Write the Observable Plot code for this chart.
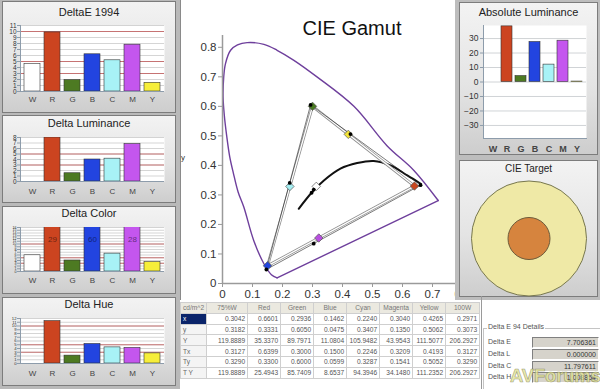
<!DOCTYPE html>
<html><head><meta charset="utf-8">
<script src="https://cdn.jsdelivr.net/npm/d3@7"></script>
<script src="https://cdn.jsdelivr.net/npm/@observablehq/plot@0.6"></script>
<style>
html,body{margin:0;padding:0}
body{width:600px;height:389px;overflow:hidden;background:#fff;font-family:"Liberation Sans",Arial,sans-serif;position:relative}
.box{position:absolute}
.panel{position:absolute;background:linear-gradient(#f3f3f3,#e4e4e4 55%,#cdcdcd);box-shadow:inset 0 0 0 1px #7c7c7c}
.ptitle{position:absolute;left:0;right:0;text-align:center;color:#222;font-size:11px;line-height:12px}
.panel svg{position:absolute;left:0;top:0}
table.dt{position:absolute;left:180px;top:302px;border-collapse:collapse;table-layout:fixed;font-size:6.6px;color:#555}
table.dt td{border:1px solid #cfcfcf;height:9.8px;line-height:9px;padding:0 2px;text-align:right;white-space:nowrap;overflow:hidden}
table.dt tr.hd td{background:#ebe9e0;text-align:center;color:#777}
table.dt td.rh{text-align:left;background:#f4f4f4;color:#666}
table.dt td.sel{background:#0a246a;color:#fff}
.lbl{position:absolute;font-size:7px;color:#555}
.val{position:absolute;left:532px;width:63px;height:9px;background:#d6d3cb;border-top:1px solid #808080;border-left:1px solid #808080;border-right:1px solid #fff;border-bottom:1px solid #fff;font-size:7px;line-height:9px;text-align:right;color:#333;padding-right:2px;box-sizing:content-box}
</style></head><body>
<script>
// ---------- data ----------
const categories = ["W","R","G","B","C","M","Y"];
const barColors = ["#ffffff","#cc4420","#4d7a22","#2244e0","#a8f2f6","#c456ee","#f6ee3a"];
const deltaE1994 = [4.6, 9.85, 1.9, 6.2, 5.2, 7.8, 1.45];
const deltaLuminance = [0, 8.0, 1.5, 4.0, 4.15, 6.8, 0];
const deltaColor = [5.9, 29, 4.0, 60, 6.5, 28, 3.4];
const deltaHue = [0, 11.3, 2.1, 5.2, 4.3, 4.15, 2.7];
const absoluteLuminance = [0, 38.4, 4.1, 27.6, 12, 28.5, 0.3];
const thresholdLines = [3, 5, 10];
const deltaETicks = d3.range(0, 12);
const deltaLTicks = d3.range(0, 9);
const deltaCTicks = d3.range(0, 17);
const deltaHTicks = d3.range(0, 13);
const absLumTicks = [-30, -20, -10, 0, 10, 20, 30];
const gamutTicks = [0, 0.1, 0.2, 0.3, 0.4, 0.5, 0.6, 0.7, 0.8];

const tableCols = ["cd/m^2","75%W","Red","Green","Blue","Cyan","Magenta","Yellow","100W"];
const rowNames = ["x","y","Y","Tx","Ty","T Y"];
const measX  = [0.3042,0.6601,0.2936,0.1462,0.2240,0.3040,0.4265,0.2971];
const measY  = [0.3182,0.3331,0.6050,0.0475,0.3407,0.1350,0.5062,0.3073];
const measLum = [119.8889,35.3370,89.7971,11.0804,105.9482,43.9543,111.5077,206.2927];
const targX  = [0.3127,0.6399,0.3000,0.1500,0.2246,0.3209,0.4193,0.3127];
const targY  = [0.3290,0.3300,0.6000,0.0599,0.3287,0.1541,0.5052,0.3290];
const targLum = [119.8889,25.4943,85.7409,8.6537,94.3946,34.1480,111.2352,206.2927];
const pointColors = ["#ffffff","#c8461e","#4a7a22","#2244dd","#a6eef2","#b84ee0","#f2e23a",null];

// spectral locus (x, y)
const locusX = [0.182,0.163,0.138,0.104,0.071,0.052,0.036,0.024,0.014,0.006,0.002,0.004,0.010,0.027,0.050,0.082,0.138,0.182,0.238,0.316,0.438,0.549,0.638,0.719];
const locusY = [0.019,0.030,0.067,0.146,0.259,0.310,0.375,0.430,0.500,0.570,0.630,0.699,0.745,0.790,0.808,0.816,0.810,0.790,0.756,0.699,0.600,0.466,0.383,0.281];
// black body curve
const planckX = [0.254,0.299,0.338,0.393,0.449,0.504,0.560,0.616,0.662];
const planckY = [0.253,0.310,0.349,0.389,0.408,0.415,0.400,0.366,0.337];

const deltaDetails = [["Delta E","7.706361"],["Delta L","0.000000"],["Delta C","11.797611"],["Delta H","1.008854"]];

// ---------- layout helpers ----------
const FONT = "Liberation Sans, Arial, sans-serif";
function div(cls, style, text) {
  const d = document.createElement("div");
  if (cls) d.className = cls;
  Object.assign(d.style, style);
  if (text != null) d.textContent = text;
  document.body.appendChild(d);
  return d;
}
function makePanel(left, top, width, height, title, titleY, fs) {
  const p = div("panel", {left:left+"px", top:top+"px", width:width+"px", height:height+"px"});
  const t = document.createElement("div");
  t.className = "ptitle"; t.textContent = title;
  t.style.top = (titleY - 6) + "px";
  if (fs) t.style.fontSize = fs + "px";
  p.appendChild(t);
  return p;
}

// background columns
div("box", {left:"0px", top:"0px", width:"180px", height:"389px", background:"#b9b9b9"});
div("box", {left:"180px", top:"0px", width:"1px", height:"300px", background:"#8a8a8a"});

function barPanel(top, height, title, titleY, values, ticks, mt, mb, pad, yFont, showOver) {
  const p = makePanel(2, top, 174, height, title, titleY);
  const yMax = ticks[ticks.length - 1];
  const data = categories.map((c, i) => ({cat: c, v: values[i], color: barColors[i]}));
  const marks = [
    Plot.frame({fill: "white", stroke: null}),
    Plot.ruleY(ticks, {stroke: "#cacaca", strokeWidth: 0.8}),
    Plot.ruleY(thresholdLines.filter(t => t <= yMax), {stroke: "#c46868", strokeWidth: 0.9}),
    Plot.barY(data, {x: "cat", y: "v", fill: "color", stroke: "#333", strokeWidth: 0.6, clip: true}),
    Plot.ruleY([0], {stroke: "#8d9cab", strokeWidth: 1}),
    Plot.frame({anchor: "left", stroke: "#8d9cab"}),
    Plot.axisY({ticks, tickSize: 3, tickPadding: 1, fontSize: yFont, stroke: "#8d9cab", fill: "#333", label: null}),
    Plot.axisX({tickSize: 0, tickPadding: pad, fontSize: 8, fill: "#444", label: null})
  ];
  if (showOver) {
    marks.push(Plot.text(data.filter(d => d.v > yMax), {x: "cat", y: d => Math.min(d.v, yMax), dy: 12, text: d => String(d.v), fontSize: 8, fill: "#000", fillOpacity: 0.5}));
  }
  const svg = Plot.plot({
    width: 174, height, marginLeft: 18, marginRight: 12, marginTop: mt, marginBottom: mb,
    x: {domain: categories, paddingInner: 0.22, paddingOuter: 0.11, label: null},
    y: {domain: [0, yMax], label: null},
    color: {type: "identity"},
    style: {background: "transparent", fontFamily: FONT, color: "#333", overflow: "visible"},
    marks
  });
  p.appendChild(svg);
}

barPanel(1, 112, "DeltaE 1994", 11, deltaE1994, deltaETicks, 24, 22, 5, 6.5, false);
barPanel(115, 88, "Delta Luminance", 8, deltaLuminance, deltaLTicks, 22, 22, 7, 6.5, false);
barPanel(206, 88, "Delta Color", 7, deltaColor, deltaCTicks, 21, 23, 6, 3.6, true);
barPanel(297, 89, "Delta Hue", 7, deltaHue, deltaHTicks, 21, 23, 7, 4.2, false);

// ---------- CIE gamut ----------
const locus = locusX.map((x, i) => ({x, y: locusY[i]}));
const locusClose = [locus[locus.length - 1], locus[0]];
const planck = planckX.map((x, i) => ({x, y: planckY[i]}));
const tri = [1, 2, 3, 1];
const targetTri = tri.map(i => ({x: targX[i], y: targY[i]}));
const measuredTri = tri.map(i => ({x: measX[i], y: measY[i]}));
const targets = d3.range(0, 7).map(i => ({x: targX[i], y: targY[i], color: pointColors[i]}));
const measured = measX.map((x, i) => ({x, y: measY[i]}));
const fmt = d => d === 0 ? "0" : d.toFixed(1);

const gamut = Plot.plot({
  width: 300, height: 300, marginLeft: 42, marginRight: 18, marginTop: 35, marginBottom: 17,
  x: {domain: [0, 0.8], label: null},
  y: {domain: [0, 0.84], label: null},
  color: {type: "identity"},
  style: {background: "transparent", fontFamily: FONT, fontSize: "11.5px", color: "#333", overflow: "visible"},
  marks: [
    Plot.line(locus, {x: "x", y: "y", curve: "catmull-rom", stroke: "#6e3f9c", strokeWidth: 1.4}),
    Plot.line(locusClose, {x: "x", y: "y", stroke: "#6e3f9c", strokeWidth: 1.4}),
    Plot.line(planck, {x: "x", y: "y", curve: "catmull-rom", stroke: "#111", strokeWidth: 2}),
    Plot.line(targetTri, {x: "x", y: "y", stroke: "#8c8c8c", strokeWidth: 2.8}),
    Plot.line(targetTri, {x: "x", y: "y", stroke: "#fff", strokeWidth: 1.3}),
    Plot.line(measuredTri, {x: "x", y: "y", stroke: "#222", strokeWidth: 0.6}),
    Plot.dot(targets, {x: "x", y: "y", symbol: "diamond2", r: 3.8, fill: "color", stroke: "#555", strokeWidth: 0.7}),
    Plot.dot(measured, {x: "x", y: "y", r: 1.9, fill: "#000", stroke: null}),
    Plot.ruleX([0], {y1: 0, y2: 0.84, stroke: "#9a9a9a", strokeWidth: 1.5}),
    Plot.ruleY([0], {stroke: "#9a9a9a", strokeWidth: 1.5}),
    Plot.axisX({ticks: gamutTicks, tickFormat: fmt, tickSize: 4, tickPadding: 2, stroke: "#9a9a9a", fill: "#333", label: null}),
    Plot.axisY({ticks: gamutTicks, tickFormat: fmt, tickSize: 4, tickPadding: 2, stroke: "#9a9a9a", fill: "#333", label: null})
  ]
});
const gwrap = div("box", {left: "180px", top: "0px"});
gwrap.appendChild(gamut);
div("box", {left: "252px", top: "16px", width: "200px", textAlign: "center", fontSize: "20px", lineHeight: "24px", color: "#111"}, "CIE Gamut");
div("box", {left: "181px", top: "153px", fontSize: "8px", color: "#333"}, "y");

// ---------- right column ----------
div("box", {left: "455px", top: "0px", width: "145px", height: "300px", background: "#bdbdbd"});
const pAbs = makePanel(459, 2, 139, 153, "Absolute Luminance", 10);
{
  const data = categories.map((c, i) => ({cat: c, v: absoluteLuminance[i], color: barColors[i]}));
  const svg = Plot.plot({
    width: 139, height: 153, marginLeft: 24, marginRight: 12, marginTop: 23, marginBottom: 17,
    x: {domain: categories, paddingInner: 0.21, paddingOuter: 0.105, label: null},
    y: {domain: [-39, 39], label: null},
    color: {type: "identity"},
    style: {background: "transparent", fontFamily: FONT, color: "#333", overflow: "visible"},
    marks: [
      Plot.frame({fill: "white", stroke: null}),
      Plot.ruleY(absLumTicks, {stroke: "#c4c8cc", strokeWidth: 0.8}),
      Plot.barY(data, {x: "cat", y: "v", fill: "color", stroke: "#333", strokeWidth: 0.6}),
      Plot.frame({anchor: "bottom", stroke: "#8d9cab"}),
      Plot.frame({anchor: "left", stroke: "#8d9cab"}),
      Plot.axisY({ticks: absLumTicks, tickSize: 3, tickPadding: 2, fontSize: 8.5, stroke: "#8d9cab", fill: "#333", label: null}),
      Plot.axisX({tickSize: 0, tickPadding: 7, fontSize: 9, fill: "#444", fontWeight: "bold", label: null})
    ]
  });
  pAbs.appendChild(svg);
}
const pTarget = makePanel(459, 160, 139, 137, "CIE Target", 9, 10);
{
  const center = [{a: 0, b: 0}];
  const svg = Plot.plot({
    width: 139, height: 137, marginLeft: 0, marginRight: 0, marginTop: 19, marginBottom: 0,
    x: {domain: [-1, 1], axis: null}, y: {domain: [-1, 1], axis: null},
    style: {background: "transparent", overflow: "visible"},
    marks: [
      Plot.dot(center, {x: "a", y: "b", r: 57.5, fill: "#efe9a6", stroke: "#77774f", strokeWidth: 1}),
      Plot.dot(center, {x: "a", y: "b", r: 21, fill: "#d6843e", stroke: "#6d5a3a", strokeWidth: 1})
    ]
  });
  pTarget.appendChild(svg);
}

// ---------- table ----------
{
  const t = document.createElement("table");
  t.className = "dt";
  const cg = document.createElement("colgroup");
  [24, 41, 33, 33, 33, 33, 33, 33, 34].forEach(w => { const c = document.createElement("col"); c.style.width = w + "px"; cg.appendChild(c); });
  t.appendChild(cg);
  const hr = document.createElement("tr"); hr.className = "hd";
  tableCols.forEach((c, i) => { const td = document.createElement("td"); td.textContent = c; if (i === 0) { td.style.textAlign = "left"; } hr.appendChild(td); });
  t.appendChild(hr);
  const rows = [measX, measY, measLum, targX, targY, targLum];
  rows.forEach((r, ri) => {
    const tr = document.createElement("tr");
    const th = document.createElement("td"); th.className = "rh" + (ri === 0 ? " sel" : ""); th.textContent = rowNames[ri]; tr.appendChild(th);
    r.forEach(v => { const td = document.createElement("td"); td.textContent = v.toFixed(4); tr.appendChild(td); });
    t.appendChild(tr);
  });
  document.body.appendChild(t);
}

// ---------- Delta E 94 details ----------
div("box", {left: "483px", top: "328px", width: "117px", height: "61px", borderTop: "1px solid #c4c4c4", borderLeft: "1px solid #c4c4c4"});
div("box", {left: "481px", top: "296px", width: "1px", height: "93px", background: "#9a9a9a"});
div("lbl", {left: "487px", top: "323px", background: "#fff", padding: "0 1px"}, "Delta E 94 Details");
const rowTops = [337, 349, 361, 372];
deltaDetails.forEach(([k, v], i) => {
  div("lbl", {left: "488px", top: (rowTops[i] + 1) + "px"}, k);
  div("val", {top: rowTops[i] + "px"}, v);
});
div("box", {left: "510px", top: "364px", fontSize: "18.5px", fontWeight: "bold", color: "rgba(226,228,150,0.78)", WebkitTextStroke: "0.6px rgba(120,120,80,0.7)", letterSpacing: "-0.2px", lineHeight: "24px", whiteSpace: "nowrap"}, "AVForums");
</script>
</body></html>
